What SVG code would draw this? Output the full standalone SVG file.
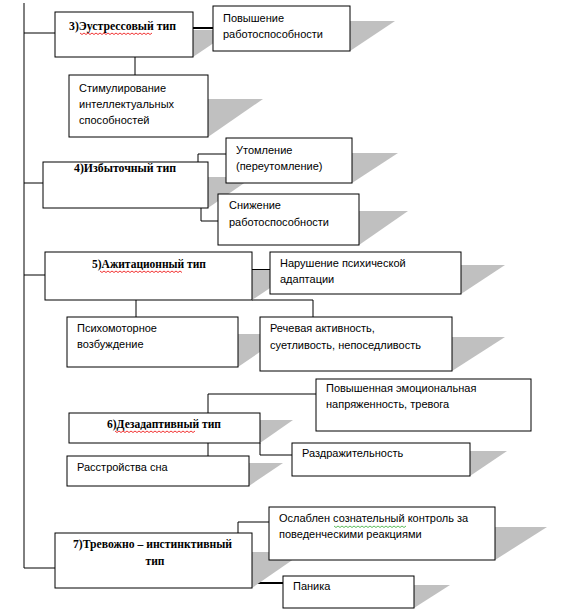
<svg xmlns="http://www.w3.org/2000/svg" width="569" height="614" viewBox="0 0 569 614">
<style>
.box{fill:#fff;stroke:#000;stroke-width:1}
.sh{fill:#c0c0c0}
.ln{fill:none;stroke:#000;stroke-width:1}
.lnb{fill:none;stroke:#000;stroke-width:2}
.t{font-family:"Liberation Serif",serif;font-size:11.5px;font-weight:bold;fill:#000;text-anchor:middle}
.s{font-family:"Liberation Sans",Arial,sans-serif;font-size:11px;fill:#000}
.sq{fill:none;stroke-width:0.8}
</style>
<rect width="569" height="614" fill="#fff"/>
<g id="connectors">
<path class="ln" d="M24,3 V568 H55"/>
<path class="ln" d="M24,33 H55"/>
<path class="ln" d="M24,183 H43"/>
<path class="ln" d="M24,275 H45"/>
<path class="lnb" d="M193,28 H213"/>
<path class="ln" d="M135,57 V75"/>
<path class="ln" d="M198,162 V154 H226"/>
<path class="ln" d="M201,208 V221 H218"/>
<path class="lnb" d="M252,270 H270"/>
<path class="ln" d="M136,300 V317"/>
<path class="ln" d="M252,300 H313 V317"/>
<path class="ln" d="M208,413 V394 H316"/>
<path class="ln" d="M260,443 V455 H292"/>
<path class="ln" d="M208,443 V456"/>
<path class="ln" d="M238,533 V522 H269"/>
<path class="lnb" d="M252,583 H283"/>
</g>
<g id="shadows">
<polygon class="sh" points="100,57 193,57 233,30 140,30"/>
<polygon class="sh" points="260,51 350,51 395,21 305,21"/>
<polygon class="sh" points="120,137 208,137 263,99 175,99"/>
<polygon class="sh" points="100,208 208,208 253,177 145,177"/>
<polygon class="sh" points="270,183 352,183 398,153 316,153"/>
<polygon class="sh" points="270,245 359,245 408,211 319,211"/>
<polygon class="sh" points="120,300 252,300 297,270 165,270"/>
<polygon class="sh" points="330,294 461,294 505,265 374,265"/>
<polygon class="sh" points="120,367 238,367 286,334 168,334"/>
<polygon class="sh" points="330,371 452,371 505,337 383,337"/>
<polygon class="sh" points="140,443 260,443 293,420 173,420"/>
<polygon class="sh" points="350,476 470,476 507,451 387,451"/>
<polygon class="sh" points="130,486 249,486 283,463 164,463"/>
<polygon class="sh" points="130,588 252,588 304,552 182,552"/>
<polygon class="sh" points="340,560 495,560 547,527 392,527"/>
<polygon class="sh" points="330,608 414,608 450,585 366,585"/>
</g>
<g id="n3">
<rect class="box" x="55" y="12" width="138" height="45"/>
<text class="t" x="122.5" y="30" textLength="107" lengthAdjust="spacingAndGlyphs">3)Эустрессовый тип</text>
<path class="sq" stroke="#e00" d="M80,33 l2,1.5 l2,-1.5 l2,1.5 l2,-1.5 l2,1.5 l2,-1.5 l2,1.5 l2,-1.5 l2,1.5 l2,-1.5 l2,1.5 l2,-1.5 l2,1.5 l2,-1.5 l2,1.5 l2,-1.5 l2,1.5 l2,-1.5 l2,1.5 l2,-1.5 l2,1.5 l2,-1.5 l2,1.5 l2,-1.5 l2,1.5 l2,-1.5 l2,1.5 l2,-1.5 l2,1.5 l2,-1.5 l2,1.5 l2,-1.5 l2,1.5 l2,-1.5 l2,1.5 l2,-1.5"/>
</g>
<g id="n3a">
<rect class="box" x="213" y="6" width="137" height="45"/>
<text class="s" x="223" y="22">Повышение</text>
<text class="s" x="223" y="38">работоспособности</text>
</g>
<g id="n3b">
<rect class="box" x="69" y="75" width="139" height="62"/>
<text class="s" x="79" y="92">Стимулирование</text>
<text class="s" x="79" y="108">интеллектуальных</text>
<text class="s" x="79" y="124">способностей</text>
</g>
<g id="n4">
<rect class="box" x="43" y="162" width="165" height="46"/>
<text class="t" x="125" y="172" textLength="102" lengthAdjust="spacingAndGlyphs">4)Избыточный тип</text>
</g>
<g id="n4a">
<rect class="box" x="226" y="138" width="126" height="45"/>
<text class="s" x="236" y="154">Утомление</text>
<text class="s" x="236" y="170">(переутомление)</text>
</g>
<g id="n4b">
<rect class="box" x="218" y="194" width="141" height="51"/>
<text class="s" x="229" y="209">Снижение</text>
<text class="s" x="229" y="226">работоспособности</text>
</g>
<g id="n5">
<rect class="box" x="45" y="252" width="207" height="48"/>
<text class="t" x="149" y="268" textLength="114" lengthAdjust="spacingAndGlyphs">5)Ажитационный  тип</text>
<path class="sq" stroke="#e00" d="M100,271 l2,1.5 l2,-1.5 l2,1.5 l2,-1.5 l2,1.5 l2,-1.5 l2,1.5 l2,-1.5 l2,1.5 l2,-1.5 l2,1.5 l2,-1.5 l2,1.5 l2,-1.5 l2,1.5 l2,-1.5 l2,1.5 l2,-1.5 l2,1.5 l2,-1.5 l2,1.5 l2,-1.5 l2,1.5 l2,-1.5 l2,1.5 l2,-1.5 l2,1.5 l2,-1.5 l2,1.5 l2,-1.5 l2,1.5 l2,-1.5 l2,1.5 l2,-1.5 l2,1.5 l2,-1.5 l2,1.5 l2,-1.5 l2,1.5 l2,-1.5 l2,1.5"/>
</g>
<g id="n5a">
<rect class="box" x="270" y="252" width="191" height="42"/>
<text class="s" x="280" y="267">Нарушение психической</text>
<text class="s" x="280" y="283">адаптации</text>
</g>
<g id="n5b">
<rect class="box" x="67" y="317" width="171" height="50"/>
<text class="s" x="77" y="332">Психомоторное</text>
<text class="s" x="77" y="348">возбуждение</text>
</g>
<g id="n5c">
<rect class="box" x="260" y="317" width="192" height="54"/>
<text class="s" x="270" y="332">Речевая активность,</text>
<text class="s" x="270" y="349">суетливость, непоседливость</text>
</g>
<g id="n6">
<rect class="box" x="69" y="413" width="191" height="30"/>
<text class="t" x="164" y="428" textLength="114" lengthAdjust="spacingAndGlyphs">6)Дезадаптивный  тип</text>
<path class="sq" stroke="#e00" d="M115,431 l2,1.5 l2,-1.5 l2,1.5 l2,-1.5 l2,1.5 l2,-1.5 l2,1.5 l2,-1.5 l2,1.5 l2,-1.5 l2,1.5 l2,-1.5 l2,1.5 l2,-1.5 l2,1.5 l2,-1.5 l2,1.5 l2,-1.5 l2,1.5 l2,-1.5 l2,1.5 l2,-1.5 l2,1.5 l2,-1.5 l2,1.5 l2,-1.5 l2,1.5 l2,-1.5 l2,1.5 l2,-1.5 l2,1.5 l2,-1.5 l2,1.5 l2,-1.5 l2,1.5 l2,-1.5 l2,1.5 l2,-1.5 l2,1.5 l2,-1.5"/>
</g>
<g id="n6a">
<rect class="box" x="316" y="379" width="215" height="52"/>
<text class="s" x="326" y="392">Повышенная эмоциональная</text>
<text class="s" x="326" y="408">напряженность, тревога</text>
</g>
<g id="n6b">
<rect class="box" x="292" y="443" width="178" height="33"/>
<text class="s" x="302" y="457">Раздражительность</text>
</g>
<g id="n6c">
<rect class="box" x="67" y="456" width="182" height="30"/>
<text class="s" x="77" y="471">Расстройства  сна</text>
</g>
<g id="n7">
<rect class="box" x="55" y="533" width="197" height="55"/>
<text class="t" x="152.5" y="548" textLength="159" lengthAdjust="spacingAndGlyphs">7)Тревожно – инстинктивный</text>
<text class="t" x="155" y="565">тип</text>
</g>
<g id="n7a">
<rect class="box" x="269" y="507" width="226" height="53"/>
<text class="s" x="279" y="522">Ослаблен сознательный  контроль  за</text>
<text class="s" x="279" y="538">поведенческими реакциями</text>
<path class="sq" stroke="#3a3" d="M334,526 l2,1.5 l2,-1.5 l2,1.5 l2,-1.5 l2,1.5 l2,-1.5 l2,1.5 l2,-1.5 l2,1.5 l2,-1.5 l2,1.5 l2,-1.5 l2,1.5 l2,-1.5 l2,1.5 l2,-1.5 l2,1.5 l2,-1.5 l2,1.5 l2,-1.5 l2,1.5 l2,-1.5 l2,1.5 l2,-1.5 l2,1.5 l2,-1.5 l2,1.5 l2,-1.5 l2,1.5 l2,-1.5 l2,1.5 l2,-1.5 l2,1.5 l2,-1.5 l2,1.5 l2,-1.5"/>
</g>
<g id="n7b">
<rect class="box" x="283" y="576" width="131" height="32"/>
<text class="s" x="293" y="590">Паника</text>
</g>
</svg>
